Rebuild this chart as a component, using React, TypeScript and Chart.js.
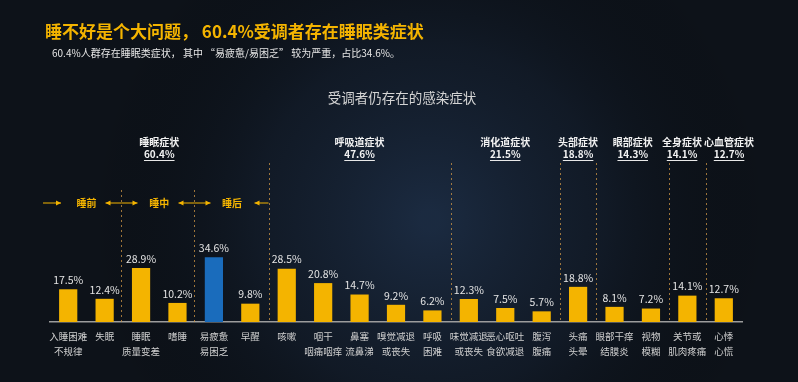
import React, { useEffect, useRef } from 'react';
import { Chart, registerables } from 'chart.js';

Chart.register(...registerables);

const categories: string[][] = [
  ['入睡困难', '不规律'], ['失眠'], ['睡眠', '质量变差'], ['嗜睡'], ['易疲惫', '易困乏'], ['早醒'],
  ['咳嗽'], ['咽干', '咽痛咽痒'], ['鼻塞', '流鼻涕'], ['嗅觉减退', '或丧失'], ['呼吸', '困难'],
  ['味觉减退', '或丧失'], ['恶心呕吐', '食欲减退'], ['腹泻', '腹痛'],
  ['头痛', '头晕'], ['眼部干痒', '结膜炎'], ['视物', '模糊'], ['关节或', '肌肉疼痛'], ['心悸', '心慌'],
];
const values: number[] = [17.5, 12.4, 28.9, 10.2, 34.6, 9.8, 28.5, 20.8, 14.7, 9.2, 6.2, 12.3, 7.5, 5.7, 18.8, 8.1, 7.2, 14.1, 12.7];
const highlightIndex = 4;

const groupNames = ['睡眠症状', '呼吸道症状', '消化道症状', '头部症状', '眼部症状', '全身症状', '心血管症状'];
const groupShares = ['60.4%', '47.6%', '21.5%', '18.8%', '14.3%', '14.1%', '12.7%'];
const groupFirst = [0, 6, 11, 14, 15, 17, 18];
const groupLast = [5, 10, 13, 14, 16, 17, 18];

const phaseNames = ['睡前', '睡中', '睡后'];
const phaseFirst = [0, 2, 4];
const phaseLast = [1, 3, 5];

const titleText = '睡不好是个大问题， 60.4%受调者存在睡眠类症状';
const subtitleText = '60.4%人群存在睡眠类症状， 其中 “易疲惫/易困乏” 较为严重，占比34.6%。';
const chartTitleText = '受调者仍存在的感染症状';

const FONT = '"Noto Sans CJK SC", "Noto Sans", sans-serif';
const GOLD = '#f4b400';
const BLUE = '#1a6cbc';

function arrow(ctx: CanvasRenderingContext2D, x1: number, x2: number, y: number) {
  ctx.beginPath();
  ctx.moveTo(x1, y);
  ctx.lineTo(x2, y);
  ctx.stroke();
  const d = x2 > x1 ? 1 : -1;
  ctx.beginPath();
  ctx.moveTo(x2, y);
  ctx.lineTo(x2 - d * 5, y - 2.5);
  ctx.lineTo(x2 - d * 5, y + 2.5);
  ctx.closePath();
  ctx.fill();
}

const decorPlugin = {
  id: 'decor',
  beforeDraw(chart: any) {
    const { ctx, width, height } = chart;
    ctx.save();
    ctx.fillStyle = '#0d1219';
    ctx.fillRect(0, 0, width, height);
    const g = ctx.createRadialGradient(430, 220, 10, 430, 220, 340);
    g.addColorStop(0, 'rgba(38,62,96,0.55)');
    g.addColorStop(0.5, 'rgba(25,40,62,0.35)');
    g.addColorStop(1, 'rgba(0,0,0,0)');
    ctx.fillStyle = g;
    ctx.fillRect(0, 0, width, height);
    ctx.restore();
  },
  afterDatasetsDraw(chart: any) {
    const { ctx, chartArea } = chart;
    const xs = chart.scales.x;
    const meta = chart.getDatasetMeta(0);
    const px = (i: number) => xs.getPixelForValue(i);
    const bound = (i: number) => (px(i) + px(i + 1)) / 2;
    ctx.save();

    // value labels
    ctx.font = `10.5px ${FONT}`;
    ctx.fillStyle = '#e4e4e4';
    ctx.textAlign = 'center';
    ctx.textBaseline = 'bottom';
    meta.data.forEach((bar: any, i: number) => {
      ctx.fillText(values[i].toFixed(1) + '%', bar.x, bar.y - 4);
    });

    // separators
    ctx.strokeStyle = 'rgba(205,150,70,0.75)';
    ctx.lineWidth = 1;
    ctx.setLineDash([2, 3]);
    const majors = groupLast.slice(0, groupLast.length - 1);
    majors.forEach((i) => {
      const x = Math.round(bound(i)) + 0.5;
      ctx.beginPath();
      ctx.moveTo(x, 163);
      ctx.lineTo(x, chartArea.bottom);
      ctx.stroke();
    });
    phaseLast.slice(0, phaseLast.length - 1).forEach((i) => {
      const x = Math.round(bound(i)) - 1.5;
      ctx.beginPath();
      ctx.moveTo(x, 190);
      ctx.lineTo(x, chartArea.bottom);
      ctx.stroke();
    });
    ctx.setLineDash([]);

    // group headers
    ctx.font = `bold 10px ${FONT}`;
    const heads = groupNames.map((n, gi) => {
      const cx = (px(groupFirst[gi]) + px(groupLast[gi])) / 2;
      const w = Math.max(ctx.measureText(n).width, ctx.measureText(groupShares[gi]).width);
      return { cx, w };
    });
    for (let k = 1; k < heads.length; k++) {
      const a = heads[k - 1];
      const b = heads[k];
      const ov = a.cx + a.w / 2 + 2 - (b.cx - b.w / 2);
      if (ov > 0) {
        a.cx -= ov / 2;
        b.cx += ov / 2;
      }
    }
    ctx.textBaseline = 'middle';
    ctx.fillStyle = '#f2f2f2';
    groupNames.forEach((n, gi) => {
      const { cx } = heads[gi];
      ctx.fillText(n, cx, 142);
      ctx.fillText(groupShares[gi], cx, 154);
      const tw = ctx.measureText(groupShares[gi]).width;
      ctx.strokeStyle = '#e8e8e8';
      ctx.lineWidth = 1;
      ctx.beginPath();
      ctx.moveTo(cx - tw / 2, 160.5);
      ctx.lineTo(cx + tw / 2, 160.5);
      ctx.stroke();
    });

    // phases
    const py = 203;
    ctx.font = `bold 10px ${FONT}`;
    ctx.fillStyle = GOLD;
    ctx.strokeStyle = GOLD;
    ctx.lineWidth = 1;
    phaseNames.forEach((n, k) => {
      const cx = (px(phaseFirst[k]) + px(phaseLast[k])) / 2;
      ctx.fillText(n, cx, py);
    });
    // arrows pointing toward each phase label
    arrow(ctx, chartArea.left - 7, chartArea.left + 11, py);
    phaseLast.slice(0, phaseLast.length - 1).forEach((i) => {
      const b = Math.round(bound(i)) - 1.5;
      arrow(ctx, b, b - 16, py);
      arrow(ctx, b, b + 16, py);
    });
    const rb = bound(phaseLast[phaseLast.length - 1]);
    arrow(ctx, rb, rb - 14, py);

    // titles
    ctx.textAlign = 'left';
    ctx.textBaseline = 'middle';
    ctx.font = `bold 17px ${FONT}`;
    ctx.fillStyle = GOLD;
    ctx.fillText(titleText, 45, 32);
    ctx.font = `10px ${FONT}`;
    ctx.fillStyle = '#e6e6e6';
    ctx.fillText(subtitleText, 52, 53);
    ctx.textAlign = 'center';
    ctx.font = `13.5px ${FONT}`;
    ctx.fillStyle = '#d4d4d4';
    ctx.fillText(chartTitleText, 402, 98);
    ctx.restore();
  },
};

export default function App() {
  const ref = useRef<HTMLCanvasElement | null>(null);
  useEffect(() => {
    if (!ref.current) return;
    const chart = new Chart(ref.current, {
      type: 'bar',
      data: {
        labels: categories,
        datasets: [
          {
            data: values,
            backgroundColor: values.map((_, i) => (i === highlightIndex ? BLUE : GOLD)),
            borderWidth: 0,
            barPercentage: 0.5,
            categoryPercentage: 1,
          },
        ],
      },
      options: {
        responsive: false,
        animation: false,
        devicePixelRatio: 1,
        layout: { padding: { left: 50, right: 56, top: 135, bottom: 0 } },
        plugins: { legend: { display: false }, tooltip: { enabled: false }, title: { display: false } },
        scales: {
          x: {
            grid: { display: true, color: 'rgba(0,0,0,0)', drawTicks: false },
            border: { display: true, color: '#9c9c9c', width: 1.5 },
            ticks: {
              color: '#cfcfcf',
              font: { size: 9.5, family: FONT, lineHeight: 1.6 },
              padding: 7,
              maxRotation: 0,
              minRotation: 0,
              autoSkip: false,
            },
            afterFit: (s: any) => {
              s.height = 60;
            },
          },
          y: { display: false, min: 0, max: 100 },
        },
      },
      plugins: [decorPlugin],
    });
    return () => chart.destroy();
  }, []);
  return (
    <div style={{ position: 'fixed', left: 0, top: 0, width: 798, height: 382, background: '#0d1219' }}>
      <canvas ref={ref} width={798} height={382} style={{ display: 'block' }} />
    </div>
  );
}
